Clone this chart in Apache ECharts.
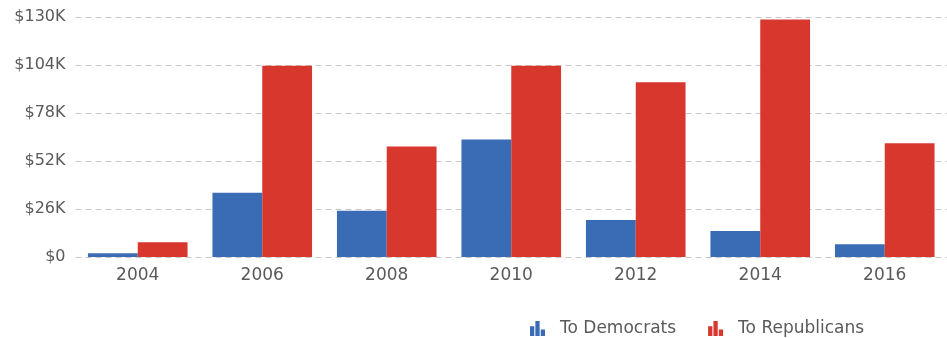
<!DOCTYPE html>
<html>
<head>
<meta charset="utf-8">
<script src="https://cdn.jsdelivr.net/npm/echarts@6/dist/echarts.min.js"></script>
<style>
html,body{margin:0;padding:0;background:#fff;}
#chart{width:947px;height:338px;}
</style>
</head>
<body>
<div id="chart"></div>
<script>
const categories = ['2004','2006','2008','2010','2012','2014','2016'];
const toDemocrats = [2000, 34800, 25000, 63700, 20000, 14100, 6900];
const toRepublicans = [8000, 103600, 59800, 103600, 94600, 128700, 61600];
const yTicks = [0, 26000, 52000, 78000, 104000, 130000];

const icon = 'path://M0,5h4v9h-4z M5,0h4v14h-4z M10,8h4v6h-4z';
const font = '"DejaVu Sans", Verdana, sans-serif';

const chart = echarts.init(document.getElementById('chart'), null, {renderer:'canvas'});
chart.setOption({
  animation: false,
  grid: {left: 75.5, right: -3.5, top: 17, bottom: 81, containLabel: false},
  legend: {
    left: 525, top: 315,
    itemWidth: 15, itemHeight: 15, itemGap: 32,
    icon: icon,
    textStyle: {color: '#5a5a5a', fontSize: 17, fontFamily: font, padding: [0,0,0,10]},
    data: ['To Democrats','To Republicans']
  },
  xAxis: {
    type: 'category', data: categories,
    axisLine: {show: false}, axisTick: {show: false},
    axisLabel: {color: '#5a5a5a', fontSize: 17, fontFamily: font, margin: 10}
  },
  yAxis: {
    type: 'value', min: yTicks[0], max: yTicks[yTicks.length-1], interval: yTicks[1]-yTicks[0],
    axisLine: {show: false}, axisTick: {show: false},
    axisLabel: {color: '#5a5a5a', fontSize: 16, fontFamily: font, margin: 10,
      formatter: v => v === 0 ? '$0' : '$' + (v/1000) + 'K'},
    splitLine: {show: true, lineStyle: {color: '#c8c8c8', type: [6,4], width: 1}}
  },
  series: [
    {name: 'To Democrats', type: 'bar', data: toDemocrats, barGap: '0%', barCategoryGap: '20%',
     itemStyle: {color: '#3a6cb6'}},
    {name: 'To Republicans', type: 'bar', data: toRepublicans, barGap: '0%', barCategoryGap: '20%',
     itemStyle: {color: '#d8372d'}}
  ]
});
</script>
</body>
</html>
